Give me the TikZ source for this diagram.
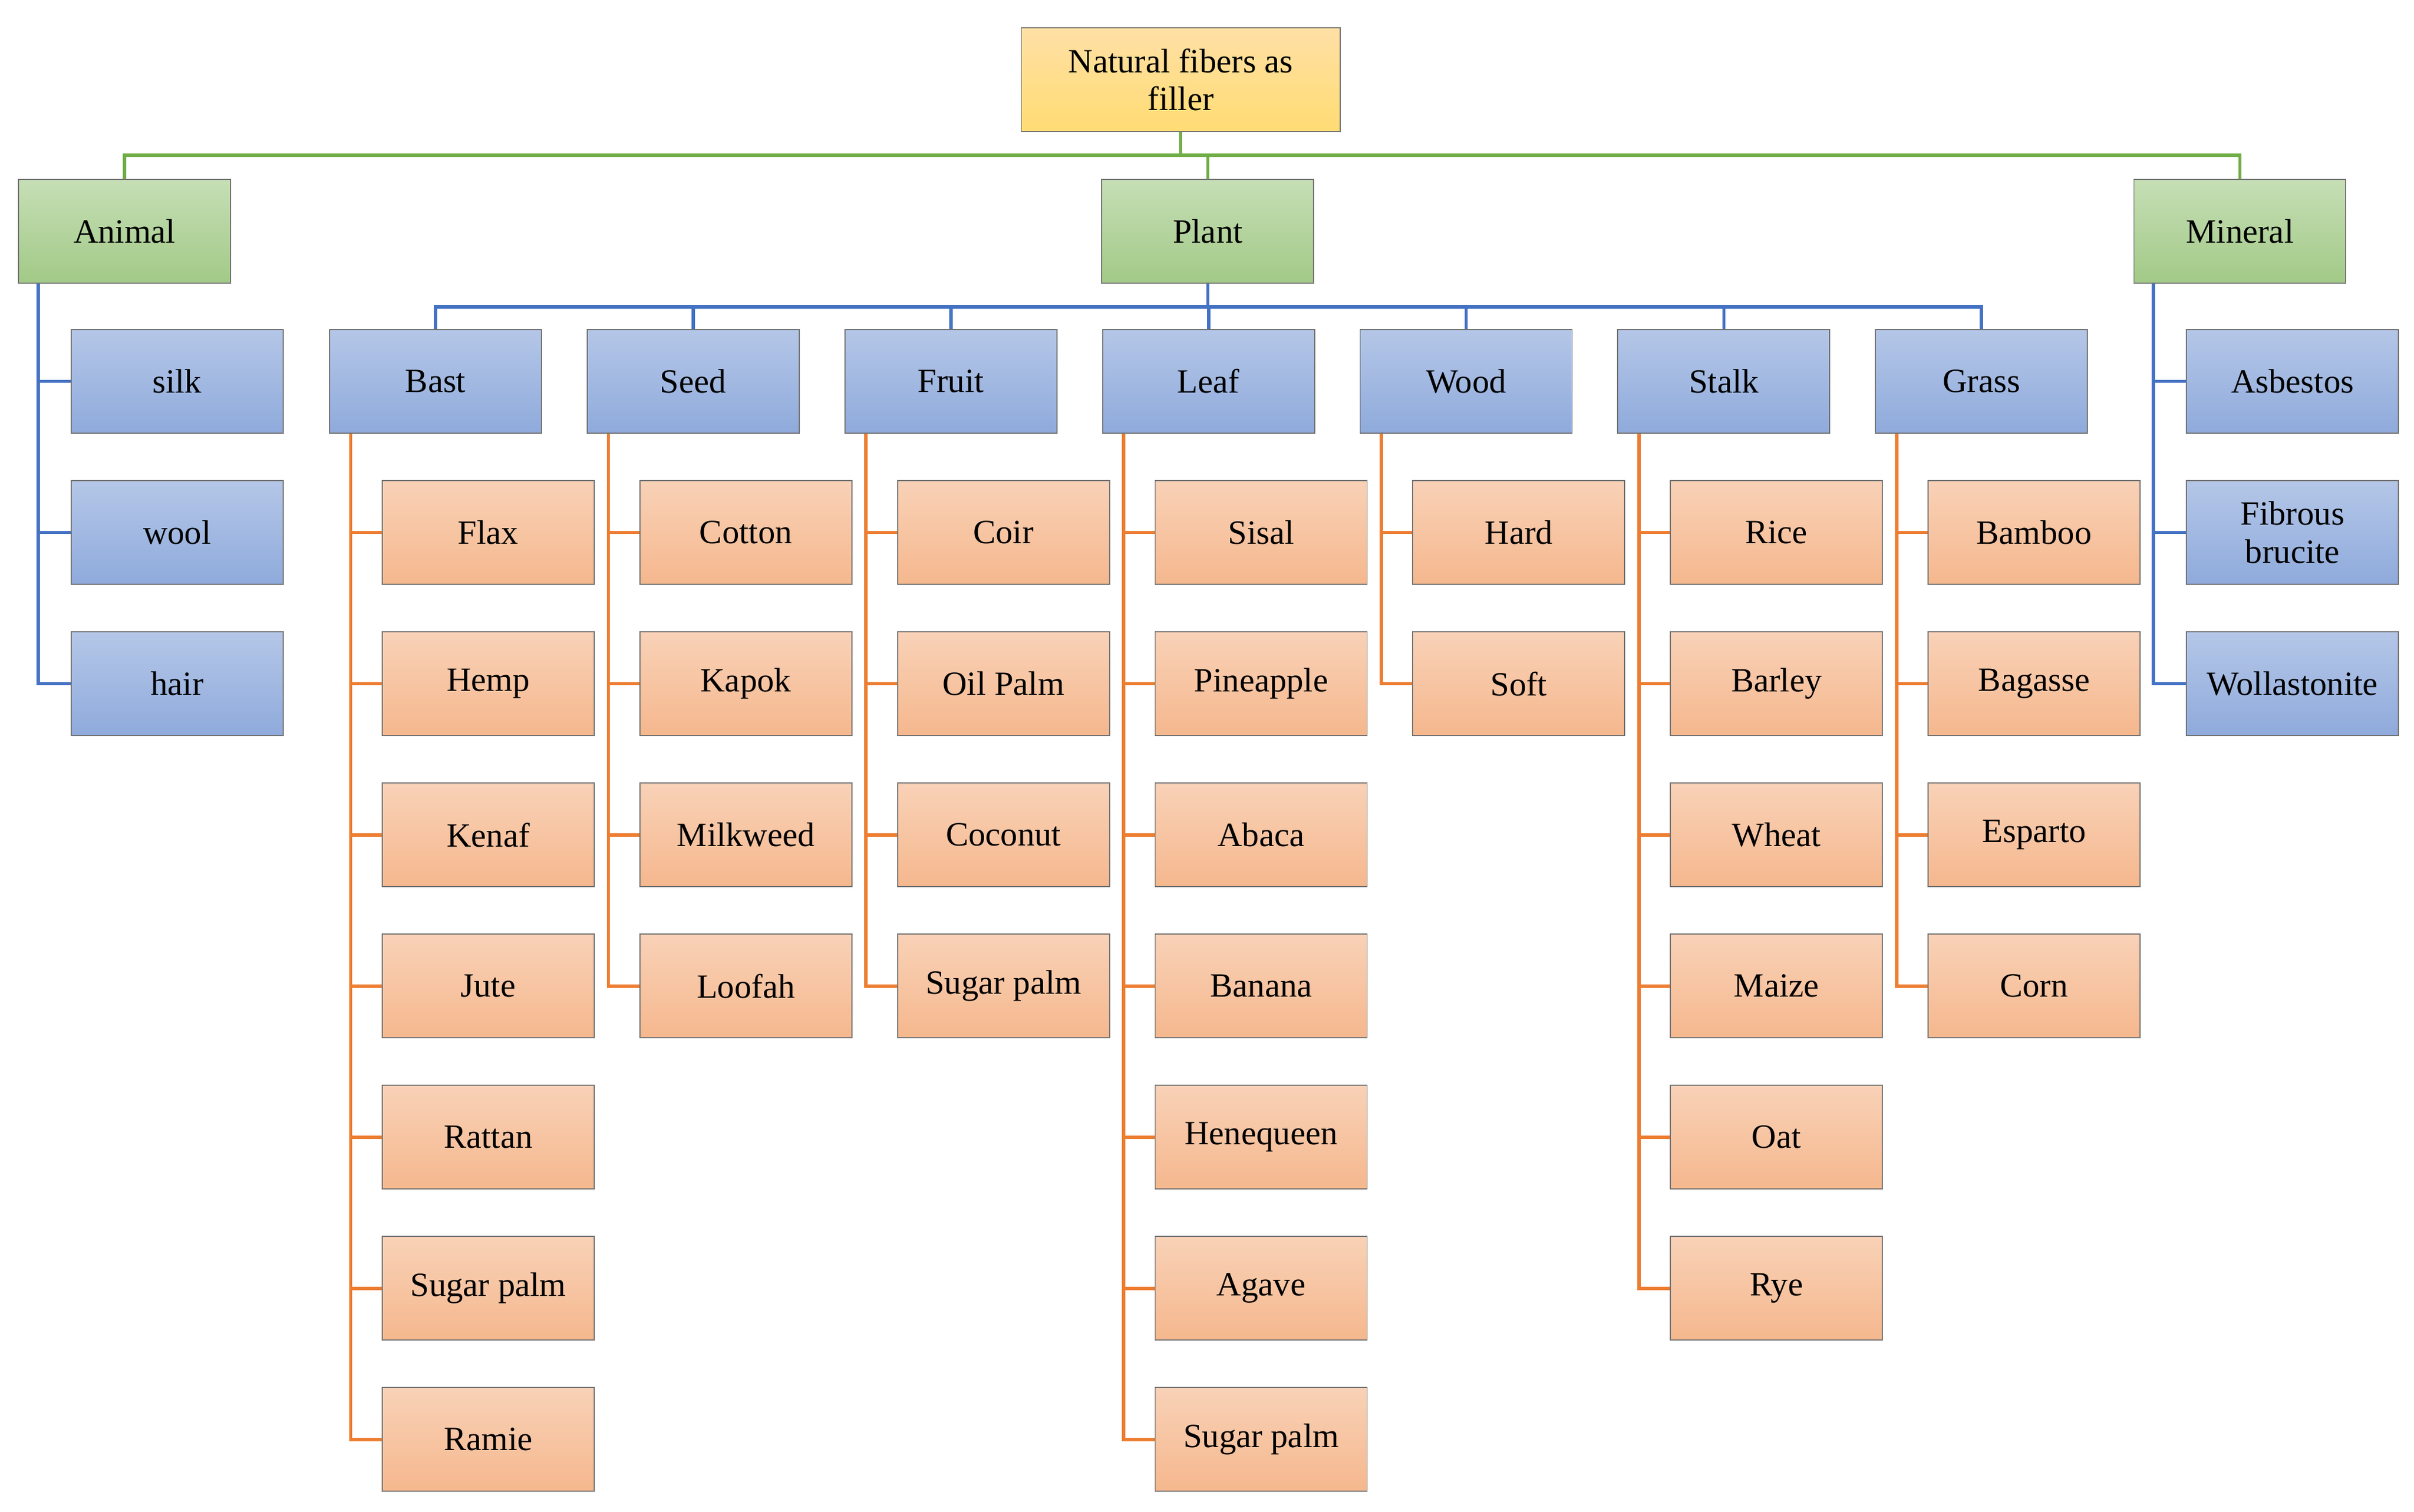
\documentclass[tikz,border=0pt]{standalone}
\usepackage{fontspec}
\setmainfont{Liberation Serif}
\usetikzlibrary{positioning}
\definecolor{lnGreen}{HTML}{70AD47}
\definecolor{lnBlue}{HTML}{4472C4}
\definecolor{lnOrange}{HTML}{ED7D31}
\begin{document}
\begin{tikzpicture}[
    x=0.02cm, y=-0.02cm,
    box/.style={draw=black!55, minimum width=2.74cm, minimum height=1.34cm, inner sep=1pt,
        align=center, font=\fontsize{12.5}{14}\selectfont},
    rootbox/.style={box, minimum width=4.12cm, top color=yellow!30!orange!35, bottom color=yellow!50!orange!55},
    grpbox/.style={box, top color=lnGreen!40!white, bottom color=lnGreen!65!white},
    catbox/.style={box, top color=lnBlue!40!white, bottom color=lnBlue!60!white},
    leafbox/.style={box, top color=lnOrange!35!white, bottom color=lnOrange!55!white},
    gline/.style={draw=lnGreen, line width=1.2pt},
    bline/.style={draw=lnBlue, line width=1.2pt},
    oline/.style={draw=lnOrange, line width=1.2pt}
]
    \useasboundingbox (0,0) rectangle (1560,977);

    % Root and first level
    \node[rootbox] (root) at (763,51.5) {Natural fibers as\\filler};
    \node[grpbox] (animal) at (80.5,149.5) {Animal};
    \node[grpbox] (plant) at (780.5,149.5) {Plant};
    \node[grpbox] (mineral) at (1447.5,149.5) {Mineral};
    \foreach \g in {animal,plant,mineral}
        \draw[gline] (root.south) -- ++(0,15) -| (\g.north);

    % Animal and mineral children
    \foreach \it [count=\r] in {silk,wool,hair} {
        \node[catbox] (ani\r) at (114.5,246.5+97.7*\r-97.7) {\it};
        \draw[bline] (animal.south west) ++(13,0) |- (ani\r.west);
    }
    \foreach \it [count=\r] in {Asbestos,{Fibrous\\brucite},Wollastonite} {
        \node[catbox] (min\r) at (1481.5,246.5+97.7*\r-97.7) {\it};
        \draw[bline] (mineral.south west) ++(13,0) |- (min\r.west);
    }

    % Plant categories with their fibers
    \foreach \cat/\items [count=\c from 0] in {
        Bast/{Flax,Hemp,Kenaf,Jute,Rattan,Sugar palm,Ramie},
        Seed/{Cotton,Kapok,Milkweed,Loofah},
        Fruit/{Coir,Oil Palm,Coconut,Sugar palm},
        Leaf/{Sisal,Pineapple,Abaca,Banana,Henequeen,Agave,Sugar palm},
        Wood/{Hard,Soft},
        Stalk/{Rice,Barley,Wheat,Maize,Oat,Rye},
        Grass/{Bamboo,Bagasse,Esparto,Corn}} {
        \node[catbox] (cat\c) at (281.5+166.5*\c,246.5) {\cat};
        \draw[bline] (plant.south) -- ++(0,15) -| (cat\c.north);
        \foreach \it [count=\r] in \items {
            \node[leafbox] (leaf\c-\r) at (315.5+166.5*\c,246.5+97.7*\r) {\it};
            \draw[oline] (cat\c.south west) ++(14,0) |- (leaf\c-\r.west);
        }
    }
\end{tikzpicture}
\end{document}
